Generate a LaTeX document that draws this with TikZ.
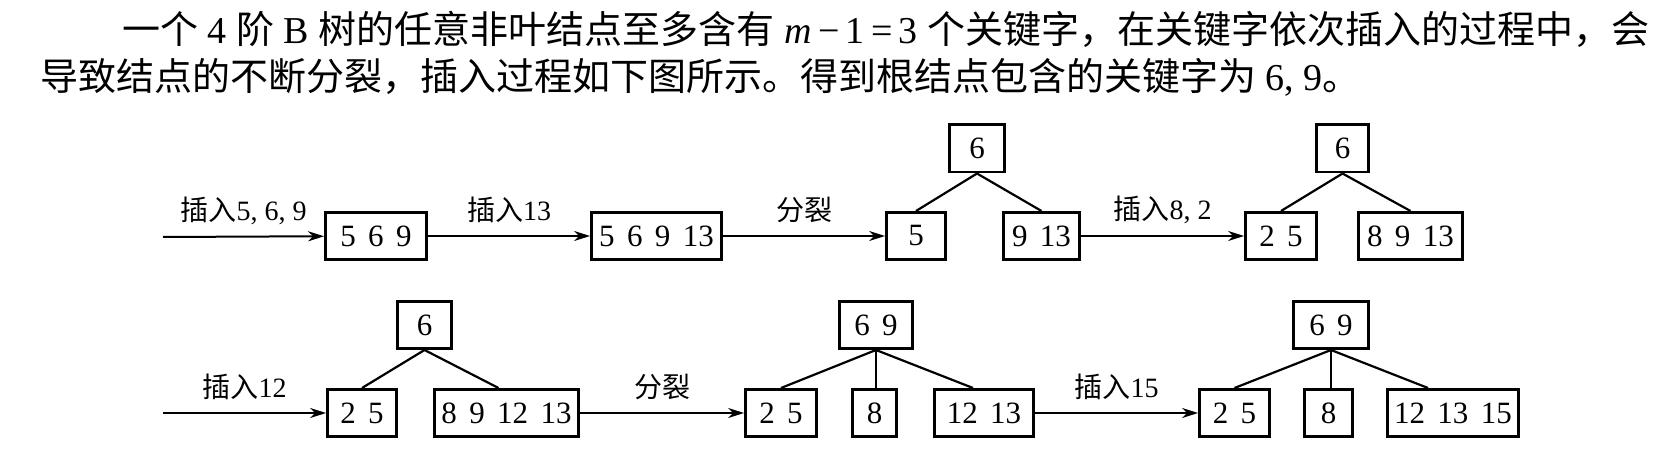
\documentclass[tikz,border=0pt]{standalone}
\usepackage{fontspec}
\setmainfont{Liberation Serif}
\newfontfamily\cjk{Noto Sans CJK SC}
\usetikzlibrary{arrows.meta}
\newcommand\keyfont{\fontsize{15.5}{18}\selectfont\spaceskip 0.4em\relax}

\tikzset{
	key/.style={draw, line width=1.4pt, minimum height=23.6pt, inner sep=0pt, font=\keyfont},
	lab/.style={font=\fontsize{14}{16}\selectfont},
	txt/.style={anchor=west, inner sep=0pt, font=\fontsize{19}{22}\selectfont},
	ins/.style={line width=1pt, -{Stealth[length=8pt, width=5pt, inset=2.5pt]}},
	link/.style={line width=1.1pt},
}

\begin{document}
\begin{tikzpicture}[x=0.5pt, y=-0.5pt]
	\useasboundingbox (0,0) rectangle (1655,470);
	\node[txt] (l1) at (122,29) {{\cjk 一个} 4 {\cjk 阶} B {\cjk 树的任意非叶结点至多含有} \textit{m}\,−\,1\,=\,3 {\cjk 个关键字，在关键字依次插入的过程中，会}};
	\node[txt] (l2) at (40,77) {{\cjk 导致结点的不断分裂，插入过程如下图所示。得到根结点包含的关键字为} 6, 9{\cjk 。}};

	\coordinate (i1) at (163,237);
	\node[key, minimum width=50.5pt] (a1) at (376,236) {5 6 9};
	\node[key, minimum width=65pt] (a2) at (656.5,236) {5 6 9 13};
	\node[key, minimum width=27.5pt] (b0) at (977,148.5) {6};
	\node[key, minimum width=29.5pt] (b1) at (916,236) {5};
	\node[key, minimum width=38pt] (b2) at (1041.5,236) {9 13};
	\node[key, minimum width=26pt] (c0) at (1342.5,148.5) {6};
	\node[key, minimum width=35.5pt] (c1) at (1281,236) {2 5};
	\node[key, minimum width=52pt] (c2) at (1410.5,236) {8 9 13};

	\coordinate (i2) at (163,413);
	\node[key, minimum width=27pt] (d0) at (424.5,325) {6};
	\node[key, minimum width=34.5pt] (d1) at (362,413) {2 5};
	\node[key, minimum width=72pt] (d2) at (506.5,413) {8 9 12 13};
	\node[key, minimum width=36.5pt] (e0) at (876,325) {6 9};
	\node[key, minimum width=35.5pt] (e1) at (781,413) {2 5};
	\node[key, minimum width=22pt] (e2) at (874.5,413) {8};
	\node[key, minimum width=49.5pt] (e3) at (984,413) {12 13};
	\node[key, minimum width=37.5pt] (f0) at (1331,325) {6 9};
	\node[key, minimum width=35pt] (f1) at (1234.5,413) {2 5};
	\node[key, minimum width=24pt] (f2) at (1328.5,413) {8};
	\node[key, minimum width=65.5pt] (f3) at (1453,413) {12 13 15};

	\draw[ins] (i1) -- node[lab, yshift=13pt] {{\cjk 插入}5, 6, 9} (a1);
	\draw[ins] (a1) -- node[lab, yshift=13pt] {{\cjk 插入}13} (a2);
	\draw[ins] (a2) -- node[lab, yshift=13pt] {\cjk 分裂} (b1);
	\draw[ins] (b2) -- node[lab, yshift=13pt] {{\cjk 插入}8, 2} (c1);
	\draw[ins] (i2) -- node[lab, yshift=13pt] {{\cjk 插入}12} (d1);
	\draw[ins] (d2) -- node[lab, yshift=13pt] {\cjk 分裂} (e1);
	\draw[ins] (e3) -- node[lab, yshift=13pt] {{\cjk 插入}15} (f1);

	\draw[link] (b0.south) -- (b1.north);
	\draw[link] (b0.south) -- (b2.north);
	\draw[link] (c0.south) -- (c1.north);
	\draw[link] (c0.south) -- (c2.north);
	\draw[link] (d0.south) -- (d1.north);
	\draw[link] (d0.south) -- ([xshift=-4pt]d2.north);
	\draw[link] (e0.south) -- (e1.north);
	\draw[link] (e0.south) -- (e0.south |- e2.north);
	\draw[link] (e0.south) -- ([xshift=-5.5pt]e3.north);
	\draw[link] (f0.south) -- (f1.north);
	\draw[link] (f0.south) -- (f0.south |- f2.north);
	\draw[link] (f0.south) -- ([xshift=-12.5pt]f3.north);
\end{tikzpicture}
\end{document}
